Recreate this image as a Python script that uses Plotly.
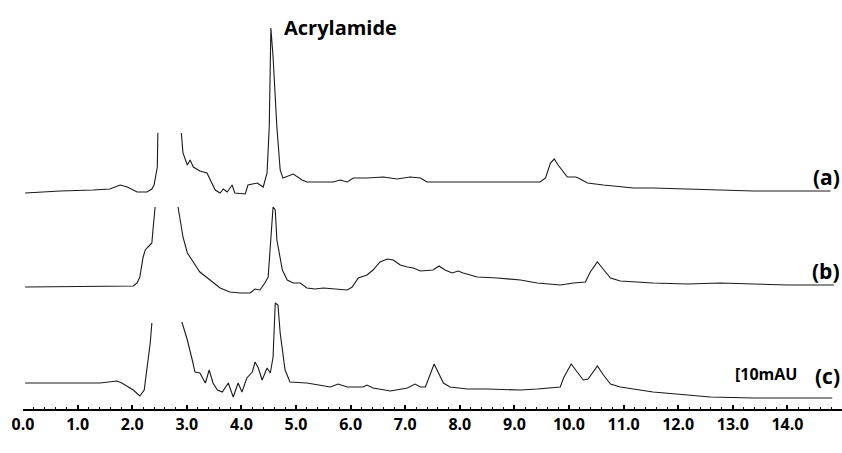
import plotly.graph_objects as go

# ---------------- data (time in min, signal in arbitrary detector units) ----------------
time_a = [0.04, 0.68, 1.28, 1.59, 1.78, 1.91, 2.09, 2.27, 2.36, 2.40, 2.46, 2.47, None,
          2.90, 2.93, 3.01, 3.06, 3.12, 3.24, 3.37, 3.43, 3.52, 3.61, 3.67, 3.74, 3.83, 3.88,
          4.07, 4.12, 4.29, 4.40, 4.47, 4.51, 4.54, 4.58, 4.65, 4.71, 4.76, 4.95, 5.11, 5.20,
          5.68, 5.81, 5.94, 6.05, 6.30, 6.60, 6.85, 7.09, 7.28, 7.40, 7.88, 9.05, 9.47, 9.57,
          9.66, 9.73, 9.80, 9.97, 10.12, 10.17, 10.34, 10.63, 11.18, 11.54, 12.17, 12.77,
          13.38, 14.00, 14.79]
signal_a = [0, 2, 3, 4, 8, 6, 1, 1, 4, 8, 26, 60, None,
            60, 40, 28, 33, 26, 22, 20, 13, 3, 0, 4, 1, 8, 0,
            -1, 8, 10, 6, 20, 66, 165, 136, 66, 23, 15, 19, 13, 11,
            11, 13, 11, 15, 15, 16, 14, 16, 15, 11, 11, 11, 11, 15,
            30, 34, 28, 16, 16, 15, 10, 8, 5, 5, 4, 3,
            2, 2, 2]

time_b = [0.04, 2.02, 2.09, 2.14, 2.20, 2.24, 2.29, 2.36, 2.38, 2.42, None,
          2.84, 2.88, 2.93, 3.01, 3.12, 3.19, 3.24, 3.43, 3.61, 3.79, 3.98, 4.16, 4.25, 4.34,
          4.43, 4.49, 4.54, 4.58, 4.62, 4.65, 4.75, 4.84, 4.95, 5.08, 5.20, 5.35, 5.50, 5.68,
          5.94, 6.03, 6.14, 6.30, 6.41, 6.54, 6.67, 6.78, 6.91, 7.04, 7.15, 7.28, 7.51, 7.62,
          7.73, 7.86, 7.97, 8.06, 8.32, 8.69, 9.11, 9.42, 9.84, 10.08, 10.30, 10.39, 10.52,
          10.61, 10.76, 10.94, 11.54, 12.17, 12.77, 13.38, 14.00, 14.85]
signal_b = [0, 1, 4, 10, 30, 37, 40, 44, 57, 80, None,
            80, 67, 50, 34, 24, 19, 15, 7, -1, -5, -6, -6, -2, -3,
            4, 10, 47, 80, 77, 47, 17, 7, 4, 4, -1, -2, -1, -2,
            -3, 0, 9, 12, 17, 25, 28, 27, 22, 20, 19, 16, 17, 21,
            17, 14, 16, 14, 10, 9, 7, 4, 2, 4, 5, 15, 25,
            19, 9, 6, 4, 3, 4, 3, 2, 2]

time_c = [0.04, 1.10, 1.41, 1.72, 1.81, 2.02, 2.14, 2.22, 2.27, 2.33, 2.36, None,
          2.91, 3.01, 3.10, 3.15, 3.24, 3.34, 3.41, 3.48, 3.56, 3.65, 3.76, 3.85, 3.94, 4.01,
          4.10, 4.20, 4.25, 4.31, 4.38, 4.47, 4.53, 4.58, 4.62, 4.67, 4.71, 4.80, 4.89, 5.20,
          5.63, 5.77, 5.94, 6.23, 6.30, 6.41, 6.73, 7.04, 7.18, 7.28, 7.37, 7.53, 7.61, 7.70,
          7.82, 8.14, 8.50, 9.11, 9.42, 9.84, 9.90, 10.04, 10.15, 10.26, 10.35, 10.52, 10.63,
          10.76, 10.94, 11.54, 12.17, 12.59, 13.38, 14.82]
signal_c = [0, 0, 0, 2, 0, -7, -13, -7, 13, 40, 60, None,
            61, 43, 23, 11, 10, 0, 13, 0, -7, -9, 0, -14, 0, -9,
            5, 11, 21, 15, 3, 15, 10, 26, 80, 78, 50, 13, 1, 0,
            -4, -1, -4, -4, -2, -5, -8, -5, -1, -4, -4, 19, 10, 0,
            -4, -6, -6, -7, -6, -4, 5, 19, 11, 3, 4, 17, 8,
            -1, -4, -9, -12, -14, -15, -15]

trace_names = ["(a)", "(b)", "(c)"]
trace_offsets = [216, 122, 26]          # vertical stacking of the chromatograms

tick_values = [0, 1, 2, 3, 4, 5, 6, 7, 8, 9, 10, 11, 12, 13, 14]
tick_labels = ["0.0", "1.0", "2.0", "3.0", "4.0", "5.0", "6.0", "7.0", "8.0", "9.0",
               "10.0", "11.0", "12.0", "13.0", "14.0"]

# ---------------- figure ----------------
FONT = "Open Sans"
fig = go.Figure()
for name, t, s, off in zip(trace_names, [time_a, time_b, time_c],
                           [signal_a, signal_b, signal_c], trace_offsets):
    fig.add_trace(go.Scatter(
        x=t, y=[None if v is None else v + off for v in s],
        mode="lines", name=name, connectgaps=False,
        line=dict(color="#1a1a1a", width=1.1),
        showlegend=False, hoverinfo="skip"))

fig.update_layout(
    width=842, height=453,
    margin=dict(l=23, r=0, t=0, b=44),
    paper_bgcolor="white", plot_bgcolor="white",
    font=dict(family=FONT, color="black"),
)
fig.update_xaxes(
    range=[0, 15.0], showgrid=False, zeroline=False,
    showline=True, linecolor="black", linewidth=1.5,
    tickmode="array", tickvals=tick_values, ticktext=tick_labels,
    ticks="inside", ticklen=4, tickwidth=1.5, tickcolor="black",
    tickfont=dict(family=FONT, size=16, weight="bold", color="black"),
    minor=dict(tickmode="linear", tick0=0, dtick=0.2, ticks="inside",
               ticklen=2, tickwidth=1, tickcolor="black"),
)
fig.update_yaxes(range=[0, 409], visible=False)

ann_font = dict(family=FONT, weight="bold", color="black")
fig.add_annotation(x=4.75, y=382, xref="x", yref="y", text="Acrylamide",
                   showarrow=False, xanchor="left", yanchor="middle",
                   font=dict(size=20, **ann_font))
for name, ylab in zip(trace_names, [232, 138, 33]):
    fig.add_annotation(x=1.0, y=ylab, xref="paper", yref="y", text=name,
                       showarrow=False, xanchor="right", yanchor="middle",
                       font=dict(size=21, **ann_font))
fig.add_annotation(x=13.0, y=35, xref="x", yref="y", text="[10mAU",
                   showarrow=False, xanchor="left", yanchor="middle",
                   font=dict(size=16, **ann_font))
fig.add_annotation(x=3.83, y=-31, xref="x", yref="y", text="Time (min)",
                   showarrow=False, xanchor="center", yanchor="middle",
                   font=dict(size=16, **ann_font))

fig.write_html("out.html",
               config={"displayModeBar": False},
               post_script="document.body.style.margin='0px';"
                           "document.body.style.overflow='hidden';")
